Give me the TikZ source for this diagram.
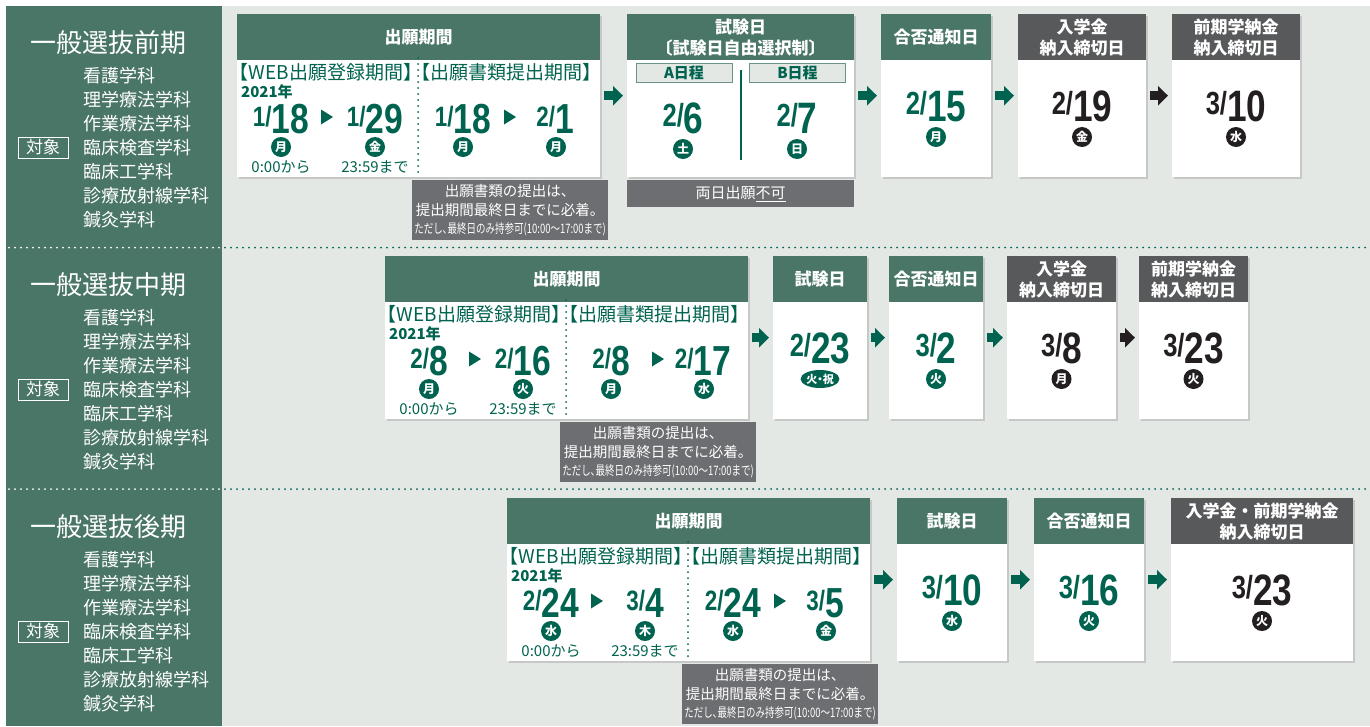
\documentclass[tikz,border=0pt]{standalone}
\usepackage{fontspec}
\setmainfont{Noto Sans CJK JP}
\newfontfamily\jphalt{Noto Sans CJK JP}[RawFeature=+halt]
\newfontfamily\jpnarrow{Noto Sans CJK JP}[FakeStretch=0.73]
\newfontfamily\datefont{Liberation Sans}[FakeStretch=0.8]
\usetikzlibrary{arrows.meta,shadows,shapes.geometric}

\definecolor{panelgreen}{HTML}{4A7667}
\definecolor{textgreen}{HTML}{00634F}
\definecolor{headgray}{HTML}{58595B}
\definecolor{notegray}{HTML}{6D6E71}
\definecolor{bggray}{HTML}{E3E8E5}
\definecolor{tagline}{HTML}{6B9488}
\definecolor{inkblack}{HTML}{231F20}

\tikzset{
  cardbody/.style={anchor=north west, fill=white, minimum height=163, inner sep=0,
    drop shadow={shadow xshift=2pt, shadow yshift=-2pt, opacity=0.3}},
  headbox/.style={anchor=north west, minimum height=46, inner sep=0, text=white,
    align=center, font=\bfseries\fontsize{17}{21}\selectfont},
  dotline/.style={line width=2, line cap=round, dash pattern=on 0pt off 6pt},
  flow/.style={draw=textgreen, line width=9, -{Triangle[length=10pt,width=19pt]},
    shorten <=4pt, shorten >=4pt},
  flowk/.style={flow, draw=inkblack},
  lbl/.style={anchor=west, inner sep=0, text=textgreen, font=\jphalt\fontsize{19}{19}\selectfont},
  yearlbl/.style={anchor=west, inner sep=0, text=textgreen, font=\bfseries\fontsize{15}{15}\selectfont},
  timelbl/.style={inner sep=0, text=textgreen, font=\fontsize{15}{15}\selectfont},
  appdate/.style={anchor=base, inner sep=0, text=textgreen,
    font=\datefont\bfseries\fontsize{42}{42}\selectfont},
  datebig/.style={anchor=base, inner sep=0, text=textgreen,
    font=\datefont\bfseries\fontsize{44}{44}\selectfont},
  datek/.style={datebig, text=inkblack},
  day/.style={circle, fill=textgreen, text=white, minimum size=20, inner sep=0,
    font=\bfseries\fontsize{12}{12}\selectfont},
  dayk/.style={day, fill=inkblack},
  notebox/.style={anchor=north west, fill=notegray, text=white, minimum width=196,
    minimum height=60, inner sep=0, align=center, font=\fontsize{14.5}{18.5}\selectfont},
  barbox/.style={anchor=north west, fill=notegray, text=white, minimum height=27,
    inner sep=0, font=\fontsize{15}{15}\selectfont},
  tagbox/.style={draw=tagline, fill=bggray, line width=1, minimum width=96,
    minimum height=19, inner sep=0, text=textgreen, font=\bfseries\fontsize{15}{15}\selectfont},
  rowtitle/.style={text=white, inner sep=0, font=\fontsize{26}{26}\selectfont},
  dept/.style={anchor=west, text=white, inner sep=0, font=\fontsize{18}{18}\selectfont},
  targetbox/.style={draw=white, line width=0.8, text=white, minimum width=50,
    minimum height=21, inner sep=0, font=\fontsize{17}{17}\selectfont}
}

\newcommand\ds[2][32]{{\fontsize{#1}{#1}\selectfont\raisebox{7pt}{#2}}}

% white card with coloured head band
\newcommand\card[5]{%
  \node[cardbody, minimum width={#3-#2}] (#1) at (#2,14) {};
  \node[headbox, fill=#4, minimum width={#3-#2}] (#1h) at (#2,14) {#5};}

% fixed parts of the application card, local coordinates
\newcommand\appframe[1]{%
  \node[cardbody, minimum width=363] (#1) at (0,0) {};
  \node[headbox, fill=panelgreen, minimum width=363] (#1h) at (0,0) {出願期間};
  \draw[dotline, textgreen] (181,44) -- (181,161);
  \node[lbl] (#1w) at (2,58) {【WEB出願登録期間】};
  \node[lbl] (#1r) at (184,58) {【出願書類提出期間】};
  \node[yearlbl] (#1y) at (4,78) {2021年};
  \fill[textgreen] (84,95.5) -- (96,103) -- (84,110.5) -- cycle;
  \fill[textgreen] (267,95.5) -- (279,103) -- (267,110.5) -- cycle;
  \node[timelbl] (#1t1) at (44,153) {0:00から};
  \node[timelbl] (#1t2) at (138,153) {23:59まで};
  \node[notebox] (#1n) at (175,166) {出願書類の提出は、\\提出期間最終日までに必着。\\
    {\jpnarrow\fontsize{13}{13}\selectfont ただし､最終日のみ持参可(10:00～17:00まで)}};}

\begin{document}
\begin{tikzpicture}[x=1pt,y=-1pt]
\useasboundingbox (0,0) rectangle (1370,726);
\fill[bggray] (6,6) rectangle (1370,726);
\fill[panelgreen] (6,6) rectangle (222,726);

% separators
\foreach \s in {247.5,489}{
  \draw[dotline, white] (9,\s) -- (219,\s);
  \draw[dotline, textgreen] (225,\s) -- (1366,\s);
}

% left column
\foreach \r/\t [count=\k] in {0/前期,242/中期,484/後期}{
  \node[rowtitle] (title\k) at (108,43+\r) {一般選抜\t};
  \node[targetbox] (target\k) at (43,147.5+\r) {対象};
  \foreach \d [count=\i] in {看護学科,理学療法学科,作業療法学科,臨床検査学科,臨床工学科,診療放射線学科,鍼灸学科}
    \node[dept] (dept\k-\i) at (83,52+24*\i+\r) {\d};
}

% row 1
\begin{scope}
  \begin{scope}[shift={(237,14)}]
    \appframe{app1}
    \node[appdate] (app1d1) at (44,119) {\ds[28]{1/}18};
    \node[day] (app1c1) at (44,133) {月};
    \node[appdate] (app1d2) at (138,119) {\ds[28]{1/}29};
    \node[day] (app1c2) at (138,133) {金};
    \node[appdate] (app1d3) at (226,119) {\ds[28]{1/}18};
    \node[day] (app1c3) at (226,133) {月};
    \node[appdate] (app1d4) at (318,119) {\ds[28]{2/}1};
    \node[day] (app1c4) at (319,133) {月};
  \end{scope}
  \card{exam1}{627}{854}{panelgreen}{試験日\\{\jphalt〔試験日自由選択制〕}}
  \node[tagbox] (exam1a) at (684,72.5) {A日程};
  \node[tagbox] (exam1b) at (797.5,72.5) {B日程};
  \draw[textgreen, line width=1.2] (741,70) -- (741,160);
  \node[datebig] (exam1d1) at (683,133) {\ds{2/}6};
  \node[day] (exam1c1) at (683,149) {土};
  \node[datebig] (exam1d2) at (797,133) {\ds{2/}7};
  \node[day] (exam1c2) at (797,149) {日};
  \node[barbox, minimum width=227] (exam1n) at (627,180) {両日出願\underline{不可}};
  \card{notice1}{881}{991}{panelgreen}{合否通知日}
  \node[datebig] (notice1d) at (936,121) {\ds{2/}15};
  \node[day] (notice1c) at (936,137) {月};
  \card{pay1}{1018}{1146}{headgray}{入学金\\納入締切日}
  \node[datek] (pay1d) at (1082,121) {\ds{2/}19};
  \node[dayk] (pay1c) at (1082,137) {金};
  \card{fee1}{1172}{1300}{headgray}{前期学納金\\納入締切日}
  \node[datek] (fee1d) at (1236,121) {\ds{3/}10};
  \node[dayk] (fee1c) at (1236,137) {水};
  \draw[flow] (app1) -- (exam1);
  \draw[flow] (exam1) -- (notice1);
  \draw[flow] (notice1) -- (pay1);
  \draw[flowk] (pay1) -- (fee1);
\end{scope}

% row 2
\begin{scope}[shift={(0,242)}]
  \begin{scope}[shift={(385,14)}]
    \appframe{app2}
    \node[appdate] (app2d1) at (44,119) {\ds[28]{2/}8};
    \node[day] (app2c1) at (44,133) {月};
    \node[appdate] (app2d2) at (138,119) {\ds[28]{2/}16};
    \node[day] (app2c2) at (138,133) {火};
    \node[appdate] (app2d3) at (226,119) {\ds[28]{2/}8};
    \node[day] (app2c3) at (226,133) {月};
    \node[appdate] (app2d4) at (318,119) {\ds[28]{2/}17};
    \node[day] (app2c4) at (319,133) {水};
  \end{scope}
  \card{exam2}{773}{867}{panelgreen}{試験日}
  \node[datebig] (exam2d) at (820,121) {\ds{2/}23};
  \node[ellipse, fill=textgreen, text=white, minimum width=37, minimum height=18,
    inner sep=0, font=\jphalt\bfseries\fontsize{11}{11}\selectfont] (exam2c) at (820,137) {火・祝};
  \card{notice2}{889}{983}{panelgreen}{合否通知日}
  \node[datebig] (notice2d) at (936,121) {\ds{3/}2};
  \node[day] (notice2c) at (936,137) {火};
  \card{pay2}{1007}{1116}{headgray}{入学金\\納入締切日}
  \node[datek] (pay2d) at (1061.5,121) {\ds{3/}8};
  \node[dayk] (pay2c) at (1061.5,137) {月};
  \card{fee2}{1139}{1248}{headgray}{前期学納金\\納入締切日}
  \node[datek] (fee2d) at (1193.5,121) {\ds{3/}23};
  \node[dayk] (fee2c) at (1193.5,137) {火};
  \draw[flow] (app2) -- (exam2);
  \draw[flow] (exam2) -- (notice2);
  \draw[flow] (notice2) -- (pay2);
  \draw[flowk] (pay2) -- (fee2);
\end{scope}

% row 3
\begin{scope}[shift={(0,484)}]
  \begin{scope}[shift={(507,14)}]
    \appframe{app3}
    \node[appdate] (app3d1) at (44,119) {\ds[28]{2/}24};
    \node[day] (app3c1) at (44,133) {水};
    \node[appdate] (app3d2) at (138,119) {\ds[28]{3/}4};
    \node[day] (app3c2) at (138,133) {木};
    \node[appdate] (app3d3) at (226,119) {\ds[28]{2/}24};
    \node[day] (app3c3) at (226,133) {水};
    \node[appdate] (app3d4) at (318,119) {\ds[28]{3/}5};
    \node[day] (app3c4) at (319,133) {金};
  \end{scope}
  \card{exam3}{897}{1007}{panelgreen}{試験日}
  \node[datebig] (exam3d) at (952,121) {\ds{3/}10};
  \node[day] (exam3c) at (952,137) {水};
  \card{notice3}{1034}{1144}{panelgreen}{合否通知日}
  \node[datebig] (notice3d) at (1089,121) {\ds{3/}16};
  \node[day] (notice3c) at (1089,137) {火};
  \card{payall}{1171}{1353}{headgray}{入学金・前期学納金\\納入締切日}
  \node[datek] (payalld) at (1262,121) {\ds{3/}23};
  \node[dayk] (payallc) at (1262,137) {火};
  \draw[flow] (app3) -- (exam3);
  \draw[flow] (exam3) -- (notice3);
  \draw[flow] (notice3) -- (payall);
\end{scope}
\end{tikzpicture}
\end{document}
